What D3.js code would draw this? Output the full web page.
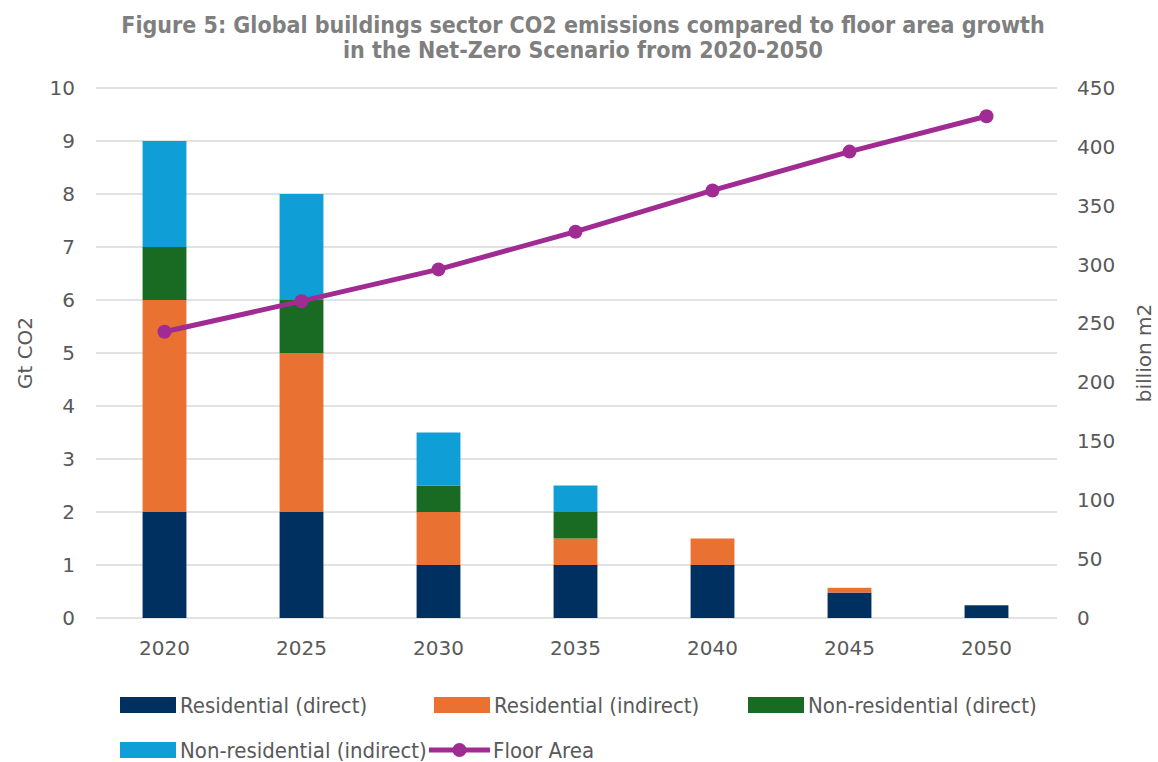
<!DOCTYPE html>
<html>
<head>
<meta charset="utf-8">
<script src="https://cdn.jsdelivr.net/npm/d3@7"></script>
<style>
  html, body { margin: 0; padding: 0; background: #fff; }
  svg { display: block; }
</style>
</head>
<body>
<svg id="chart" width="1158" height="762"></svg>
<script>
// Emissions by component (Gt CO2) and floor area (billion m2)
const years = ["2020", "2025", "2030", "2035", "2040", "2045", "2050"];
const residentialDirect = [2, 2, 1, 1, 1, 0.48, 0.24];
const residentialIndirect = [4, 3, 1, 0.5, 0.5, 0.09, 0];
const nonResidentialDirect = [1, 1, 0.5, 0.5, 0, 0, 0];
const nonResidentialIndirect = [2, 2, 1, 0.5, 0, 0, 0];
const floorArea = [243, 269, 296, 328, 363, 396, 426];
const leftTicks = [0, 1, 2, 3, 4, 5, 6, 7, 8, 9, 10];
const rightTicks = [0, 50, 100, 150, 200, 250, 300, 350, 400, 450];

const seriesKeys = ["rd", "ri", "nd", "ni"];
const seriesNames = {
  rd: "Residential (direct)",
  ri: "Residential (indirect)",
  nd: "Non-residential (direct)",
  ni: "Non-residential (indirect)"
};
const colors = { rd: "#00305F", ri: "#E97132", nd: "#196B24", ni: "#0F9ED5" };
const lineColor = "#A02B93";

const rows = years.map((y, i) => ({
  year: y,
  rd: residentialDirect[i],
  ri: residentialIndirect[i],
  nd: nonResidentialDirect[i],
  ni: nonResidentialIndirect[i]
}));

const svg = d3.select("#chart");
const margin = { left: 96, right: 103, top: 88, bottom: 144 };
const W = 1158, H = 762;

const x = d3.scaleBand().domain(years).range([margin.left, W - margin.right]).paddingInner(0.68).paddingOuter(0.34);
const y = d3.scaleLinear().domain([0, 10]).range([H - margin.bottom, margin.top]);
const y2 = d3.scaleLinear().domain([0, 450]).range([H - margin.bottom, margin.top]);

const axisFont = "'DejaVu Sans', sans-serif";
const narrowFont = "'DejaVu Sans Condensed', 'Liberation Sans Narrow', sans-serif";
const textColor = "#595959";

// Title
const title = svg.append("text")
  .attr("x", 583).attr("y", 33)
  .attr("text-anchor", "middle")
  .attr("fill", "#7F7F7F")
  .style("font-family", narrowFont)
  .style("font-weight", "bold")
  .style("font-size", "23px");
title.append("tspan").attr("x", 583).attr("dy", 0)
  .text("Figure 5: Global buildings sector CO2 emissions compared to floor area growth");
title.append("tspan").attr("x", 583).attr("dy", 25)
  .text("in the Net-Zero Scenario from 2020-2050");

// Gridlines
svg.append("g")
  .selectAll("line")
  .data(leftTicks)
  .join("line")
  .attr("x1", margin.left).attr("x2", W - margin.right + 2)
  .attr("y1", d => y(d)).attr("y2", d => y(d))
  .attr("stroke", "#D9D9D9").attr("stroke-width", 1.3);

// Left axis
const leftAxis = svg.append("g")
  .attr("transform", `translate(${margin.left},0)`)
  .call(d3.axisLeft(y).tickValues(leftTicks).tickSize(0).tickPadding(21));
leftAxis.select(".domain").remove();
leftAxis.selectAll("text")
  .attr("fill", textColor)
  .style("font-family", axisFont)
  .style("font-size", "20px");

// Right axis
const rightAxis = svg.append("g")
  .attr("transform", `translate(${W - margin.right},0)`)
  .call(d3.axisRight(y2).tickValues(rightTicks).tickSize(0).tickPadding(22));
rightAxis.select(".domain").remove();
rightAxis.selectAll("text")
  .attr("fill", textColor)
  .style("font-family", axisFont)
  .style("font-size", "20px");

// Bottom axis
const bottomAxis = svg.append("g")
  .attr("transform", `translate(0,${H - margin.bottom})`)
  .call(d3.axisBottom(x).tickSize(0).tickPadding(23));
bottomAxis.select(".domain").remove();
bottomAxis.selectAll("text")
  .attr("fill", textColor)
  .style("font-family", axisFont)
  .style("font-size", "20px");

// Axis titles
svg.append("text")
  .attr("transform", `translate(32,${(y(0) + y(10)) / 2}) rotate(-90)`)
  .attr("text-anchor", "middle")
  .attr("fill", textColor)
  .style("font-family", axisFont)
  .style("font-size", "20px")
  .text("Gt CO2");
svg.append("text")
  .attr("transform", `translate(1151,${(y(0) + y(10)) / 2}) rotate(-90)`)
  .attr("text-anchor", "middle")
  .attr("fill", textColor)
  .style("font-family", axisFont)
  .style("font-size", "20px")
  .text("billion m2");

// Stacked bars
const stacked = d3.stack().keys(seriesKeys)(rows);
svg.append("g")
  .selectAll("g")
  .data(stacked)
  .join("g")
  .attr("fill", d => colors[d.key])
  .selectAll("rect")
  .data(d => d.filter(s => s[1] - s[0] > 0))
  .join("rect")
  .attr("x", d => x(d.data.year))
  .attr("width", x.bandwidth())
  .attr("y", d => y(d[1]))
  .attr("height", d => y(d[0]) - y(d[1]));

// Floor area line
const line = d3.line()
  .x((d, i) => x(years[i]) + x.bandwidth() / 2)
  .y(d => y2(d));
svg.append("path")
  .datum(floorArea)
  .attr("d", line)
  .attr("fill", "none")
  .attr("stroke", lineColor)
  .attr("stroke-width", 5)
  .attr("stroke-linejoin", "round");
svg.append("g")
  .selectAll("circle")
  .data(floorArea)
  .join("circle")
  .attr("cx", (d, i) => x(years[i]) + x.bandwidth() / 2)
  .attr("cy", d => y2(d))
  .attr("r", 7)
  .attr("fill", lineColor);

// Legend
const legendItems = [
  { key: "rd", x: 120, y: 705 },
  { key: "ri", x: 434, y: 705 },
  { key: "nd", x: 748, y: 705 },
  { key: "ni", x: 120, y: 750 }
];
const legend = svg.append("g");
legendItems.forEach(item => {
  legend.append("rect")
    .attr("x", item.x).attr("y", item.y - 8)
    .attr("width", 56).attr("height", 16)
    .attr("fill", colors[item.key]);
  legend.append("text")
    .attr("x", item.x + 60).attr("y", item.y)
    .attr("dy", "0.35em")
    .attr("fill", textColor)
    .style("font-family", narrowFont)
    .style("font-size", "22px")
    .text(seriesNames[item.key]);
});
legend.append("line")
  .attr("x1", 429).attr("x2", 490)
  .attr("y1", 750).attr("y2", 750)
  .attr("stroke", lineColor).attr("stroke-width", 5);
legend.append("circle")
  .attr("cx", 459.5).attr("cy", 750).attr("r", 7)
  .attr("fill", lineColor);
legend.append("text")
  .attr("x", 493).attr("y", 750)
  .attr("dy", "0.35em")
  .attr("fill", textColor)
  .style("font-family", narrowFont)
  .style("font-size", "22px")
  .text("Floor Area");
</script>
</body>
</html>
